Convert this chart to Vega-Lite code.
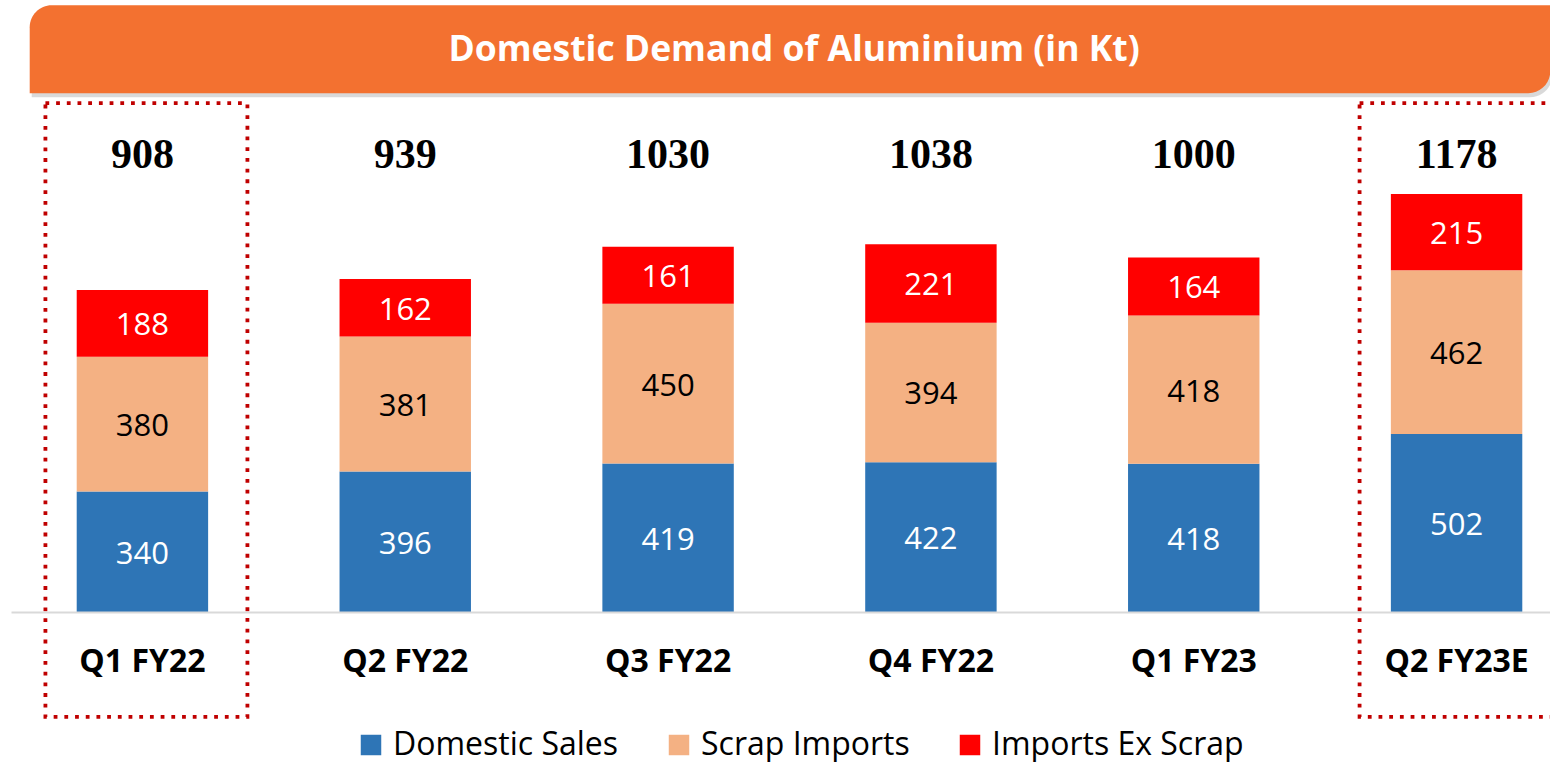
{
  "$schema": "https://vega.github.io/schema/vega-lite/v6.json",
  "width": 1577,
  "height": 461,
  "padding": {"left": 11, "top": 5, "right": 0, "bottom": 5},
  "background": "white",
  "config": {
    "view": {"stroke": null},
    "legend": {"layout": {"bottom": {"anchor": "middle"}}}
  },
  "datasets": {
    "segments": [
      {"quarter": "Q1 FY22", "series": "Domestic Sales", "ord": 0, "value": 340},
      {"quarter": "Q1 FY22", "series": "Scrap Imports", "ord": 1, "value": 380},
      {"quarter": "Q1 FY22", "series": "Imports Ex Scrap", "ord": 2, "value": 188},
      {"quarter": "Q2 FY22", "series": "Domestic Sales", "ord": 0, "value": 396},
      {"quarter": "Q2 FY22", "series": "Scrap Imports", "ord": 1, "value": 381},
      {"quarter": "Q2 FY22", "series": "Imports Ex Scrap", "ord": 2, "value": 162},
      {"quarter": "Q3 FY22", "series": "Domestic Sales", "ord": 0, "value": 419},
      {"quarter": "Q3 FY22", "series": "Scrap Imports", "ord": 1, "value": 450},
      {"quarter": "Q3 FY22", "series": "Imports Ex Scrap", "ord": 2, "value": 161},
      {"quarter": "Q4 FY22", "series": "Domestic Sales", "ord": 0, "value": 422},
      {"quarter": "Q4 FY22", "series": "Scrap Imports", "ord": 1, "value": 394},
      {"quarter": "Q4 FY22", "series": "Imports Ex Scrap", "ord": 2, "value": 221},
      {"quarter": "Q1 FY23", "series": "Domestic Sales", "ord": 0, "value": 418},
      {"quarter": "Q1 FY23", "series": "Scrap Imports", "ord": 1, "value": 418},
      {"quarter": "Q1 FY23", "series": "Imports Ex Scrap", "ord": 2, "value": 164},
      {"quarter": "Q2 FY23E", "series": "Domestic Sales", "ord": 0, "value": 502},
      {"quarter": "Q2 FY23E", "series": "Scrap Imports", "ord": 1, "value": 462},
      {"quarter": "Q2 FY23E", "series": "Imports Ex Scrap", "ord": 2, "value": 215}
    ],
    "totals": [
      {"quarter": "Q1 FY22", "total": 908},
      {"quarter": "Q2 FY22", "total": 939},
      {"quarter": "Q3 FY22", "total": 1030},
      {"quarter": "Q4 FY22", "total": 1038},
      {"quarter": "Q1 FY23", "total": 1000},
      {"quarter": "Q2 FY23E", "total": 1178}
    ],
    "boxes": [
      {"quarter": "Q1 FY22"},
      {"quarter": "Q2 FY23E"}
    ],
    "banner": [
      {"label": "Domestic Demand of Aluminium (in Kt)"}
    ]
  },
  "layer": [
    {
      "data": {"name": "banner"},
      "mark": {"type": "rect", "fill": "#000000", "opacity": 0.15, "xOffset": -45, "x2Offset": 30, "yOffset": 4, "y2Offset": 4, "cornerRadiusTopLeft": 22, "cornerRadiusBottomRight": 22},
      "encoding": {
        "x": {"datum": "Q1 FY22", "type": "nominal", "bandPosition": 0, "scale": {"domain": ["Q1 FY22", "Q2 FY22", "Q3 FY22", "Q4 FY22", "Q1 FY23", "Q2 FY23E"], "paddingInner": 0.5, "paddingOuter": 0.25},
          "axis": {"title": null, "labelAngle": 0, "labelFont": "Open Sans", "labelFontWeight": "bold", "labelFontSize": 32, "labelColor": "black", "labelBaseline": "middle", "labelPadding": 49, "ticks": false, "tickSize": 0, "domainColor": "#D9D9D9", "domainWidth": 2, "grid": false}},
        "x2": {"datum": "Q2 FY23E", "bandPosition": 1},
        "y": {"datum": 1711, "type": "quantitative", "scale": {"domain": [0, 1300]}, "axis": null},
        "y2": {"datum": 1463}
      }
    },
    {
      "data": {"name": "banner"},
      "mark": {"type": "rect", "fill": "#F37130", "xOffset": -47, "x2Offset": 28, "cornerRadiusTopLeft": 22, "cornerRadiusBottomRight": 22},
      "encoding": {
        "x": {"datum": "Q1 FY22", "type": "nominal", "bandPosition": 0, "scale": {"domain": ["Q1 FY22", "Q2 FY22", "Q3 FY22", "Q4 FY22", "Q1 FY23", "Q2 FY23E"], "paddingInner": 0.5, "paddingOuter": 0.25},
          "axis": {"title": null, "labelAngle": 0, "labelFont": "Open Sans", "labelFontWeight": "bold", "labelFontSize": 32, "labelColor": "black", "labelBaseline": "middle", "labelPadding": 49, "ticks": false, "tickSize": 0, "domainColor": "#D9D9D9", "domainWidth": 2, "grid": false}},
        "x2": {"datum": "Q2 FY23E", "bandPosition": 1},
        "y": {"datum": 1711, "type": "quantitative", "scale": {"domain": [0, 1300]}, "axis": null},
        "y2": {"datum": 1463}
      }
    },
    {
      "data": {"name": "banner"},
      "mark": {"type": "text", "font": "Open Sans", "fontWeight": "bold", "fontSize": 35.5, "color": "white", "baseline": "middle", "align": "center", "dx": 126},
      "encoding": {
        "x": {"datum": "Q3 FY22", "type": "nominal", "scale": {"domain": ["Q1 FY22", "Q2 FY22", "Q3 FY22", "Q4 FY22", "Q1 FY23", "Q2 FY23E"], "paddingInner": 0.5, "paddingOuter": 0.25},
          "axis": {"title": null, "labelAngle": 0, "labelFont": "Open Sans", "labelFontWeight": "bold", "labelFontSize": 32, "labelColor": "black", "labelBaseline": "middle", "labelPadding": 49, "ticks": false, "tickSize": 0, "domainColor": "#D9D9D9", "domainWidth": 2, "grid": false}},
        "y": {"datum": 1584, "type": "quantitative", "scale": {"domain": [0, 1300]}, "axis": null},
        "text": {"field": "label"}
      }
    },
    {
      "data": {"name": "segments"},
      "transform": [
        {"stack": "value", "groupby": ["quarter"], "sort": [{"field": "ord", "order": "ascending"}], "as": ["v0", "v1"]}
      ],
      "mark": {"type": "bar"},
      "encoding": {
        "x": {"field": "quarter", "type": "nominal", "scale": {"domain": ["Q1 FY22", "Q2 FY22", "Q3 FY22", "Q4 FY22", "Q1 FY23", "Q2 FY23E"], "paddingInner": 0.5, "paddingOuter": 0.25},
          "axis": {"title": null, "labelAngle": 0, "labelFont": "Open Sans", "labelFontWeight": "bold", "labelFontSize": 32, "labelColor": "black", "labelBaseline": "middle", "labelPadding": 49, "ticks": false, "tickSize": 0, "domainColor": "#D9D9D9", "domainWidth": 2, "grid": false}},
        "y": {"field": "v0", "type": "quantitative", "scale": {"domain": [0, 1300]}, "axis": null},
        "y2": {"field": "v1"},
        "color": {"field": "series", "type": "nominal",
          "scale": {"domain": ["Domestic Sales", "Scrap Imports", "Imports Ex Scrap"], "range": ["#2E75B6", "#F4B183", "#FF0000"]},
          "legend": {"orient": "bottom", "direction": "horizontal", "title": null, "symbolType": "square", "symbolSize": 420, "symbolStrokeWidth": 0, "symbolOpacity": 1, "labelFont": "Open Sans", "labelFontSize": 32, "labelColor": "black", "columnPadding": 44, "labelOffset": 6, "offset": 52, "labelLimit": 500}}
      }
    },
    {
      "data": {"name": "segments"},
      "transform": [
        {"stack": "value", "groupby": ["quarter"], "sort": [{"field": "ord", "order": "ascending"}], "as": ["v0", "v1"]},
        {"calculate": "(datum.v0 + datum.v1) / 2", "as": "mid"}
      ],
      "mark": {"type": "text", "font": "Open Sans", "fontSize": 31, "baseline": "middle", "align": "center", "dy": 3},
      "encoding": {
        "x": {"field": "quarter", "type": "nominal", "scale": {"domain": ["Q1 FY22", "Q2 FY22", "Q3 FY22", "Q4 FY22", "Q1 FY23", "Q2 FY23E"], "paddingInner": 0.5, "paddingOuter": 0.25},
          "axis": {"title": null, "labelAngle": 0, "labelFont": "Open Sans", "labelFontWeight": "bold", "labelFontSize": 32, "labelColor": "black", "labelBaseline": "middle", "labelPadding": 49, "ticks": false, "tickSize": 0, "domainColor": "#D9D9D9", "domainWidth": 2, "grid": false}},
        "y": {"field": "mid", "type": "quantitative", "scale": {"domain": [0, 1300]}, "axis": null},
        "text": {"field": "value", "type": "quantitative"},
        "color": {"condition": {"test": "datum.series === 'Scrap Imports'", "value": "#000000"}, "value": "#FFFFFF"}
      }
    },
    {
      "data": {"name": "totals"},
      "mark": {"type": "text", "font": "Liberation Serif", "fontWeight": "bold", "fontSize": 42, "baseline": "middle", "align": "center", "color": "#000000"},
      "encoding": {
        "x": {"field": "quarter", "type": "nominal", "scale": {"domain": ["Q1 FY22", "Q2 FY22", "Q3 FY22", "Q4 FY22", "Q1 FY23", "Q2 FY23E"], "paddingInner": 0.5, "paddingOuter": 0.25},
          "axis": {"title": null, "labelAngle": 0, "labelFont": "Open Sans", "labelFontWeight": "bold", "labelFontSize": 32, "labelColor": "black", "labelBaseline": "middle", "labelPadding": 49, "ticks": false, "tickSize": 0, "domainColor": "#D9D9D9", "domainWidth": 2, "grid": false}},
        "y": {"datum": 1288, "type": "quantitative", "scale": {"domain": [0, 1300]}, "axis": null},
        "text": {"field": "total", "type": "quantitative"}
      }
    },
    {
      "data": {"name": "boxes"},
      "mark": {"type": "bar", "width": 202, "xOffset": 4, "fill": null, "fillOpacity": 0, "stroke": "#C00000", "strokeWidth": 3.8, "strokeDash": [3.8, 6.9], "strokeCap": "butt"},
      "encoding": {
        "x": {"field": "quarter", "type": "nominal", "scale": {"domain": ["Q1 FY22", "Q2 FY22", "Q3 FY22", "Q4 FY22", "Q1 FY23", "Q2 FY23E"], "paddingInner": 0.5, "paddingOuter": 0.25},
          "axis": {"title": null, "labelAngle": 0, "labelFont": "Open Sans", "labelFontWeight": "bold", "labelFontSize": 32, "labelColor": "black", "labelBaseline": "middle", "labelPadding": 49, "ticks": false, "tickSize": 0, "domainColor": "#D9D9D9", "domainWidth": 2, "grid": false}},
        "y": {"datum": 1435, "type": "quantitative", "scale": {"domain": [0, 1300]}, "axis": null},
        "y2": {"datum": -296}
      }
    }
  ]
}
